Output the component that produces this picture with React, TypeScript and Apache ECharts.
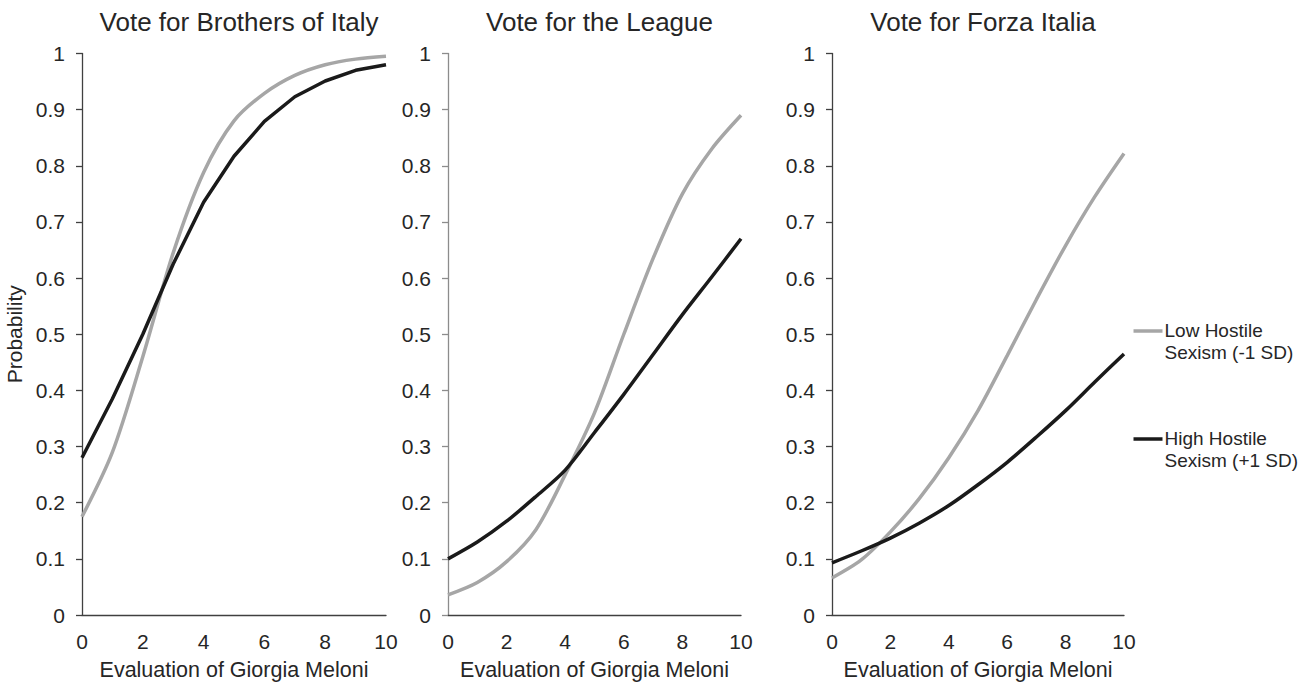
import React, { useEffect, useRef } from "react";
import * as echarts from "echarts";

const xValues = [0, 1, 2, 3, 4, 5, 6, 7, 8, 9, 10];
const panelTitles = ["Vote for Brothers of Italy", "Vote for the League", "Vote for Forza Italia"];
const seriesNames = ["Low Hostile Sexism (-1 SD)", "High Hostile Sexism (+1 SD)"];
const legendLines = [
  ["Low Hostile", "Sexism (-1 SD)"],
  ["High Hostile", "Sexism (+1 SD)"],
];

const fdiLow = [0.175, 0.29, 0.46, 0.645, 0.788, 0.88, 0.929, 0.961, 0.98, 0.99, 0.995];
const fdiHigh = [0.28, 0.385, 0.5, 0.625, 0.735, 0.817, 0.879, 0.923, 0.951, 0.97, 0.98];
const leagueLow = [0.036, 0.058, 0.095, 0.152, 0.25, 0.36, 0.5, 0.635, 0.75, 0.83, 0.89];
const leagueHigh = [0.1, 0.13, 0.167, 0.211, 0.258, 0.325, 0.393, 0.464, 0.535, 0.602, 0.67];
const forzaLow = [0.066, 0.098, 0.148, 0.208, 0.28, 0.364, 0.462, 0.562, 0.658, 0.745, 0.822];
const forzaHigh = [0.093, 0.114, 0.137, 0.164, 0.195, 0.232, 0.272, 0.317, 0.364, 0.415, 0.465];

const lowSets = [fdiLow, leagueLow, forzaLow];
const highSets = [fdiHigh, leagueHigh, forzaHigh];

const GRAY = "#a6a6a6";
const BLACK = "#1a1a1a";
const TEXT = "#262626";
const FONT = "'Liberation Sans', Arial, sans-serif";

export default function App() {
  const ref = useRef<HTMLDivElement>(null);
  useEffect(() => {
    document.body.style.margin = "0";
    if (!ref.current) return;
    const chart = echarts.init(ref.current, null, { renderer: "svg" });
    const grids = [
      { left: 82, width: 304 },
      { left: 448, width: 293 },
      { left: 832, width: 292 },
    ];
    const yAxisColors = ["#404040", "#8c8c8c", "#404040"];
    const option: any = {
      animation: false,
      backgroundColor: "#ffffff",
      textStyle: { fontFamily: FONT },
      title: grids.map((g, i) => ({
        text: panelTitles[i],
        left: g.left + g.width / 2,
        top: 4,
        textAlign: "center",
        textStyle: { fontFamily: FONT, fontSize: 26, fontWeight: "normal", color: TEXT },
      })),
      grid: grids.map((g) => ({ left: g.left, width: g.width, top: 53.5, height: 566 })),
      xAxis: grids.map((g, i) => ({
        type: "value",
        gridIndex: i,
        min: 0,
        max: 10,
        interval: 2,
        name: "Evaluation of Giorgia Meloni",
        nameLocation: "middle",
        nameGap: 44,
        nameTextStyle: { fontFamily: FONT, fontSize: 21.5, color: TEXT },
        axisLine: { show: true, lineStyle: { color: "#404040", width: 1.3 } },
        axisTick: { show: false },
        splitLine: { show: false },
        axisLabel: { fontFamily: FONT, fontSize: 21, color: TEXT, margin: 16 },
      })),
      yAxis: grids.map((g, i) => ({
        type: "value",
        gridIndex: i,
        min: 0,
        max: 1,
        interval: 0.1,
        name: i === 0 ? "Probability" : "",
        nameLocation: "middle",
        nameGap: 57,
        nameTextStyle: { fontFamily: FONT, fontSize: 21, color: TEXT },
        axisLine: { show: true, lineStyle: { color: yAxisColors[i], width: 1.3 } },
        axisTick: { show: true, inside: false, length: 6, lineStyle: { color: yAxisColors[i], width: 1.3 } },
        splitLine: { show: false },
        axisLabel: {
          fontFamily: FONT,
          fontSize: 21,
          color: TEXT,
          margin: 17,
          formatter: (v: number) => String(+v.toFixed(1)),
        },
      })),
      series: [0, 1, 2].flatMap((i) => [
        {
          name: seriesNames[0],
          type: "line",
          xAxisIndex: i,
          yAxisIndex: i,
          data: xValues.map((x, k) => [x, lowSets[i][k]]),
          smooth: 0.3,
          symbol: "none",
          lineStyle: { color: GRAY, width: 3.5 },
          z: 2,
        },
        {
          name: seriesNames[1],
          type: "line",
          xAxisIndex: i,
          yAxisIndex: i,
          data: xValues.map((x, k) => [x, highSets[i][k]]),
          smooth: i === 0 ? false : 0.3,
          symbol: "none",
          lineStyle: { color: BLACK, width: 3.5 },
          z: 3,
        },
      ]),
      graphic: legendLines.map((lines, j) => ({
        type: "group",
        left: 1131,
        top: j === 0 ? 319 : 427,
        children: [
          {
            type: "line",
            shape: { x1: 0, y1: 12, x2: 29, y2: 12 },
            style: { stroke: j === 0 ? GRAY : BLACK, lineWidth: 3.5 },
          },
          {
            type: "text",
            x: 31,
            y: 0,
            style: {
              text: lines.join("\n"),
              fontFamily: FONT,
              fontSize: 19,
              lineHeight: 22.5,
              fill: TEXT,
            },
          },
        ],
      })),
    };
    chart.setOption(option);
    return () => chart.dispose();
  }, []);
  return <div ref={ref} style={{ width: 1306, height: 686 }} />;
}
